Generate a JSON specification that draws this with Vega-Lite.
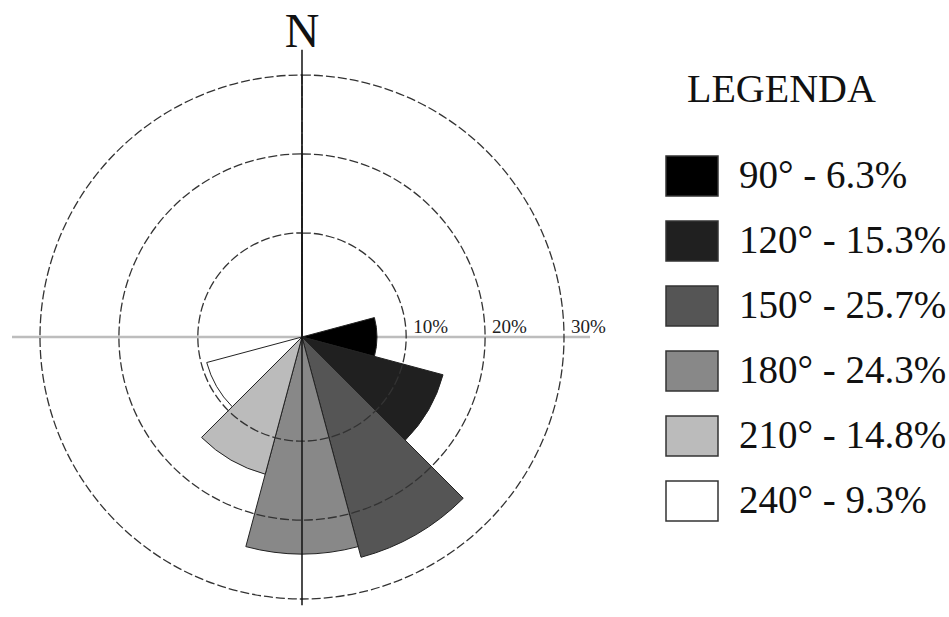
{
  "$schema": "https://vega.github.io/schema/vega-lite/v6.json",
  "width": 949,
  "height": 617,
  "padding": 0,
  "autosize": {"type": "none"},
  "background": "white",
  "config": {"view": {"stroke": null}, "legend": {"labelFont": "Liberation Serif", "titleFont": "Liberation Serif"}},
  "datasets": {
    "sectors": [
      {"dir": 90, "start": 75, "end": 105, "pct": 6.3, "label": "90° - 6.3%"},
      {"dir": 120, "start": 105, "end": 135, "pct": 15.3, "label": "120° - 15.3%"},
      {"dir": 150, "start": 135, "end": 165, "pct": 25.7, "label": "150° - 25.7%"},
      {"dir": 180, "start": 165, "end": 195, "pct": 24.3, "label": "180° - 24.3%"},
      {"dir": 210, "start": 195, "end": 225, "pct": 14.8, "label": "210° - 14.8%"},
      {"dir": 240, "start": 225, "end": 255, "pct": 9.3, "label": "240° - 9.3%"}
    ],
    "rings": [
      {"pct": 10, "txt": "10%", "start": 0, "end": 360},
      {"pct": 20, "txt": "20%", "start": 0, "end": 360},
      {"pct": 30, "txt": "30%", "start": 0, "end": 360}
    ]
  },
  "layer": [
    {
      "data": {"values": [{}]},
      "mark": {"type": "rule", "color": "#bdbdbd", "strokeWidth": 2.5},
      "encoding": {
        "x": {"datum": -36.75, "type": "quantitative", "scale": {"domain": [-38.27, 81.99], "nice": false, "zero": false}, "axis": null},
        "x2": {"datum": 36.5},
        "y": {"datum": 0, "type": "quantitative", "scale": {"domain": [-35.48, 42.7], "nice": false, "zero": false}, "axis": null}
      }
    },
    {
      "data": {"name": "sectors"},
      "mark": {"type": "arc", "stroke": "#222222", "strokeWidth": 1},
      "encoding": {
        "x": {"datum": 0, "type": "quantitative"},
        "y": {"datum": 0, "type": "quantitative"},
        "theta": {"field": "start", "type": "quantitative", "stack": null, "scale": {"domain": [0, 360], "range": [0, 6.283185307]}},
        "theta2": {"field": "end"},
        "radius": {"field": "pct", "type": "quantitative", "scale": {"type": "linear", "domain": [-3.2, 30], "range": [0, 262], "zero": false, "nice": false}},
        "radius2": {"value": 0},
        "fill": {
          "field": "label",
          "type": "nominal",
          "scale": {
            "domain": ["90° - 6.3%", "120° - 15.3%", "150° - 25.7%", "180° - 24.3%", "210° - 14.8%", "240° - 9.3%"],
            "range": ["#000000", "#202020", "#555555", "#888888", "#bbbbbb", "#ffffff"]
          },
          "legend": {
            "orient": "none",
            "legendX": 665,
            "legendY": 70,
            "padding": 0,
            "title": "LEGENDA",
            "titleFont": "Liberation Serif",
            "titleFontSize": 40,
            "titleFontWeight": "normal",
            "titleColor": "#111111",
            "titlePadding": 39,
            "titleLimit": 500,
            "labelFont": "Liberation Serif",
            "labelFontSize": 39,
            "labelColor": "#111111",
            "labelOffset": 20,
            "labelLimit": 400,
            "symbolType": "M-1,-0.77H1V0.77H-1Z",
            "symbolSize": 2704,
            "symbolStrokeColor": "#333333",
            "symbolStrokeWidth": 1.5,
            "symbolOpacity": 1,
            "rowPadding": 14,
            "encode": {"title": {"update": {"dx": {"value": 22}}}}
          }
        }
      }
    },
    {
      "data": {"name": "rings"},
      "mark": {"type": "arc", "fill": "transparent", "stroke": "#333333", "strokeWidth": 1.3, "strokeDash": [9, 3]},
      "encoding": {
        "x": {"datum": 0, "type": "quantitative"},
        "y": {"datum": 0, "type": "quantitative"},
        "theta": {"field": "start", "type": "quantitative", "stack": null},
        "theta2": {"field": "end"},
        "radius": {"field": "pct", "type": "quantitative"},
        "radius2": {"value": 0}
      }
    },
    {
      "data": {"values": [{}]},
      "mark": {"type": "rule", "color": "#111111", "strokeWidth": 1.5},
      "encoding": {
        "x": {"datum": 0, "type": "quantitative"},
        "y": {"datum": 36.4, "type": "quantitative"},
        "y2": {"datum": -34.0}
      }
    },
    {
      "data": {"name": "rings"},
      "mark": {"type": "text", "font": "Liberation Serif", "fontSize": 19, "color": "#222222", "align": "left", "baseline": "alphabetic", "dx": 7, "dy": -4},
      "encoding": {
        "x": {"datum": 0, "type": "quantitative"},
        "y": {"datum": 0, "type": "quantitative"},
        "theta": {"datum": 90, "type": "quantitative"},
        "radius": {"field": "pct", "type": "quantitative"},
        "text": {"field": "txt", "type": "nominal"}
      }
    },
    {
      "data": {"values": [{"t": "N"}]},
      "mark": {"type": "text", "font": "Liberation Serif", "fontSize": 48, "color": "#111111", "align": "center", "baseline": "alphabetic", "dy": -3},
      "encoding": {
        "x": {"datum": 0, "type": "quantitative"},
        "y": {"datum": 36.4, "type": "quantitative"},
        "text": {"field": "t", "type": "nominal"}
      }
    }
  ]
}
